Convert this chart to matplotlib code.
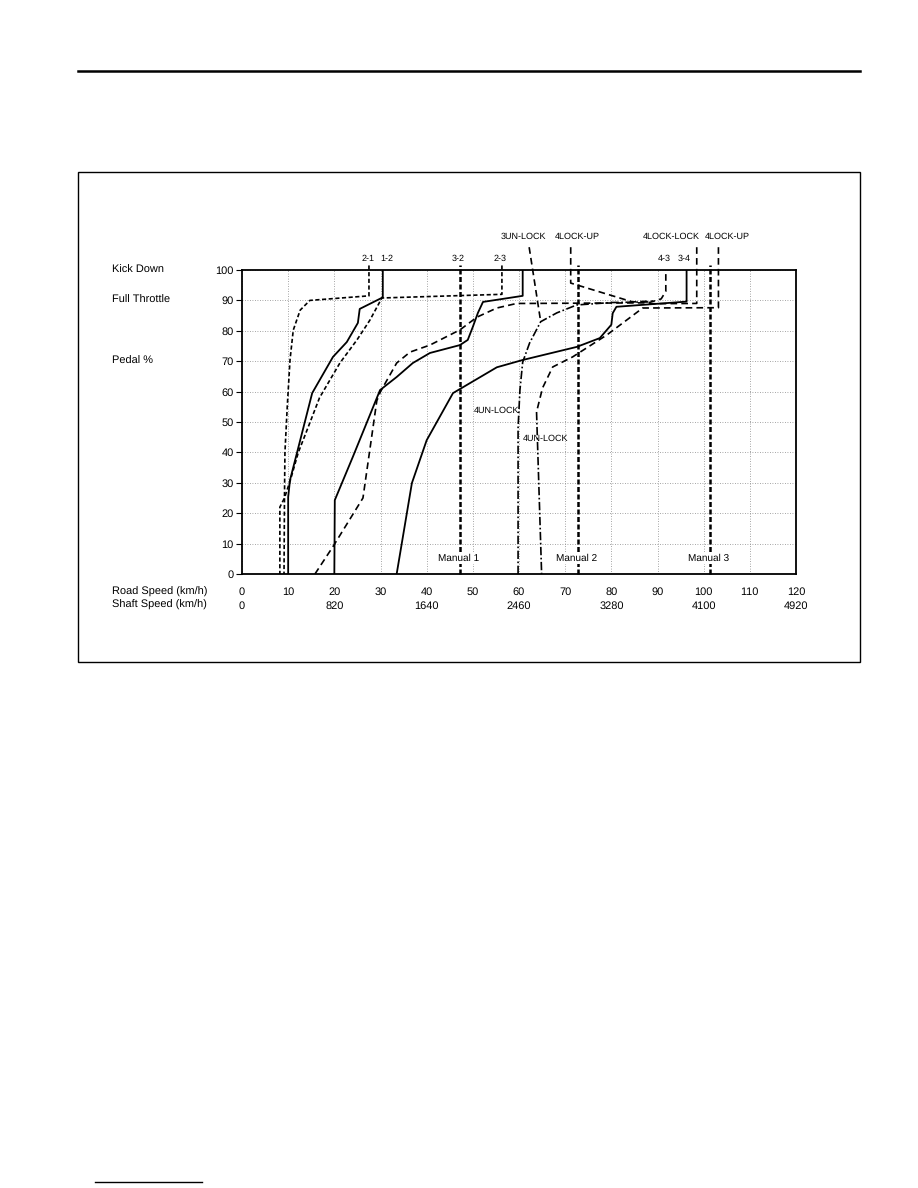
import matplotlib
matplotlib.use("Agg")
import matplotlib.pyplot as plt
from matplotlib.lines import Line2D
from matplotlib.patches import Rectangle
from matplotlib.transforms import blended_transform_factory

plt.rcParams["font.family"] = ["Liberation Sans", "DejaVu Sans"]
plt.rcParams["text.hinting"] = "no_hinting"
plt.rcParams["text.hinting_factor"] = 1

# shift curves: (road speed km/h, pedal %)
up_12_v = [30.5, 30.5, 25.5, 25.1, 22.7, 19.7, 15.2, 11.9, 10.4, 10.0, 10.0]
up_12_p = [100, 91, 87.2, 82.6, 76.3, 71.4, 59.5, 39.8, 30.9, 25.3, 0]

down_21_v = [27.5, 27.5, 14.7, 12.6, 11.1, 10.4, 9.8, 9.3, 9.2, 8.2, 8.2]
down_21_p = [101.5, 91.5, 90, 86.8, 80.2, 70.4, 55, 40, 25, 22, 0]

down_23_v = [56.3, 56.3, 30.3, 27.7, 24.9, 21.2, 16.8, 14.0, 12.2, 10.5, 9.2, 9.1]
down_23_p = [101.5, 92, 90.8, 83.5, 77, 69.4, 58, 47, 40, 31, 25, 0]

up_23_v = [60.8, 60.8, 52.2, 51.1, 50.0, 48.9, 47.2, 40.7, 37.0, 33.5, 29.9, 24.0, 20.1, 20.0]
up_23_p = [100, 91.5, 89.5, 85.9, 81.3, 77, 75.3, 72.7, 69.4, 64.8, 60.5, 38.5, 24.3, 0]

down_32_v = [15.8, 19.7, 26.2, 29.2, 30.0, 33.5, 36.4, 40.7, 47.2, 50.9, 55.2, 59.5, 62.0, 88.0, 90.8, 91.8, 91.8]
down_32_p = [0, 9, 25, 57, 60, 69.4, 73, 75.3, 80.3, 84.5, 87.5, 89, 89, 89.2, 90.5, 93, 100]

up_34_v = [96.3, 96.3, 81.1, 80.3, 80.0, 77.5, 72.5, 60.8, 55.2, 45.7, 40.0, 36.8, 33.5]
up_34_p = [100, 89.6, 87.9, 85.8, 82, 77.6, 74.7, 70.4, 68, 59.5, 44, 29.9, 0]

unlock3_v = [62.2, 64.7]
unlock3_p = [107.5, 83]

unlock4a_v = [59.8, 59.8, 60.2, 60.8, 62.3, 64.7, 68.2, 72.5, 80.0, 88.0]
unlock4a_p = [0, 48, 60.5, 69.7, 76, 83, 85.9, 88.5, 89.3, 89.5]

lockup4b_v = [103.2, 103.2, 86.8, 79.0, 71.6, 67.3, 65.1, 63.8]
lockup4b_p = [107.5, 87.6, 87.5, 78.6, 71.4, 68.1, 61.2, 53.3]
unlock4b_v = [63.8, 64.9]
unlock4b_p = [53.3, 0]

lockup4a_v = [71.2, 71.2, 84.6, 89.0]
lockup4a_p = [107.5, 95.7, 89.5, 89.8]

locklock4_v = [98.5, 98.5, 88.0]
locklock4_p = [107.5, 89.0, 88.9]

manual_v = [47.2, 72.7, 101.4]
manual_labels = ["Manual 1", "Manual 2", "Manual 3"]

road_ticks = list(range(0, 130, 10))
shaft_ticks = [0, 20, 40, 60, 80, 100, 120]
shaft_labels = ["0", "820", "1640", "2460", "3280", "4100", "4920"]
pedal_ticks = list(range(0, 110, 10))

fig = plt.figure(figsize=(9.18, 11.88), dpi=100)
W, H = 918, 1188

# page rules and chart frame
fig.add_artist(Line2D([78 / W, 860 / W], [1 - 71 / H, 1 - 71 / H], color="black", lw=1.8))
fig.add_artist(Line2D([95 / W, 202 / W], [1 - 1182 / H, 1 - 1182 / H], color="black", lw=1.0))
fig.add_artist(Rectangle((78 / W, 1 - 662 / H), 782 / W, 490 / H, fill=False,
                         edgecolor="black", lw=1.0))

ax = fig.add_axes([242 / W, 1 - 574 / H, 554 / W, 304 / H])
ax.set_xlim(0, 120)
ax.set_ylim(0, 100)
for s in ax.spines.values():
    s.set_linewidth(1.3)
ax.set_xticks(road_ticks)
ax.set_xticklabels([])
ax.tick_params(axis="x", length=0)
ax.set_yticks(pedal_ticks)
ax.set_yticklabels([str(t) for t in pedal_ticks], fontsize=8)
ax.tick_params(axis="y", length=4, width=0.8, pad=2)
ax.grid(True, color="#888888", linestyle=(0, (1, 2)), lw=0.6)

dash = (0, (4, 2.5))
ddot = (0, (5, 1.5, 1, 1.5))
k = "black"

ax.plot(up_12_v, up_12_p, color=k, lw=1.3)
ax.plot(up_23_v, up_23_p, color=k, lw=1.3)
ax.plot(up_34_v, up_34_p, color=k, lw=1.3)
ax.plot(down_21_v, down_21_p, color=k, lw=1.2, ls=(0, (2.5, 1.5)), clip_on=False)
ax.plot(down_23_v, down_23_p, color=k, lw=1.2, ls=(0, (2.5, 1.5)), clip_on=False)
ax.plot(down_32_v, down_32_p, color=k, lw=1.2, ls=dash)
ax.plot(unlock3_v, unlock3_p, color=k, lw=1.2, ls=dash, clip_on=False)
ax.plot(unlock4a_v, unlock4a_p, color=k, lw=1.2, ls=ddot)
ax.plot(lockup4b_v, lockup4b_p, color=k, lw=1.2, ls=dash, clip_on=False)
ax.plot(unlock4b_v, unlock4b_p, color=k, lw=1.2, ls=ddot)
ax.plot(lockup4a_v, lockup4a_p, color=k, lw=1.2, ls=dash, clip_on=False)
ax.plot(locklock4_v, locklock4_p, color=k, lw=1.2, ls=dash, clip_on=False)
for v in manual_v:
    ax.plot([v, v], [0, 101.5], color=k, lw=1.8, ls=(0, (2, 1)), clip_on=False)

# labels above plot
top_labels = [("2-1", 27.3, 102.5), ("1-2", 31.3, 102.5), ("3-2", 46.8, 102.5),
              ("2-3", 56.0, 102.5), ("4-3", 91.5, 102.5), ("3-4", 95.8, 102.5),
              ("3UN-LOCK", 61.0, 109.5), ("4LOCK-UP", 72.7, 109.5),
              ("4LOCK-LOCK", 92.9, 109.5), ("4LOCK-UP", 105.2, 109.5)]
for txt, x, y in top_labels:
    ax.text(x, y, txt, fontsize=6.8, ha="center", va="bottom", clip_on=False)

ax.text(55.2, 53.6, "4UN-LOCK", fontsize=6.8, ha="center", va="center")
ax.text(60.8, 44.7, "4UN-LOCK", fontsize=6.8, ha="left", va="center")
for v, lab in zip(manual_v, manual_labels):
    ax.text(v - 0.3, 5.0, lab, fontsize=7, ha="center", va="center",
            bbox=dict(facecolor="white", edgecolor="none", pad=0.5))

# side labels
tr = blended_transform_factory(fig.transFigure, ax.transData)
for txt, y in [("Kick Down", 100), ("Full Throttle", 90), ("Pedal %", 70)]:
    ax.text(112 / W, y, txt, transform=tr, fontsize=8, ha="left", va="center")

# bottom scales
tb = blended_transform_factory(ax.transData, fig.transFigure)
ax.text(112 / W, 1 - 592 / H, "Road Speed (km/h)", transform=fig.transFigure,
        fontsize=8, ha="left", va="center")
ax.text(112 / W, 1 - 605 / H, "Shaft Speed (km/h)", transform=fig.transFigure,
        fontsize=8, ha="left", va="center")
for t in road_ticks:
    ax.text(t, 1 - 592 / H, str(t), transform=tb, fontsize=8, ha="center", va="center")
for t, lab in zip(shaft_ticks, shaft_labels):
    ax.text(t, 1 - 606 / H, lab, transform=tb, fontsize=8, ha="center", va="center")

fig.savefig("out.png", dpi=100)
